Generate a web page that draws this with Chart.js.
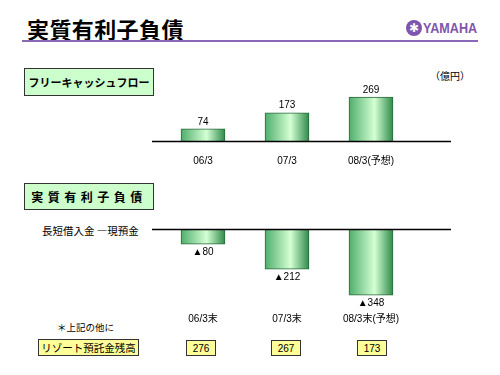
<!DOCTYPE html>
<html><head><meta charset="utf-8">
<script src="https://cdn.jsdelivr.net/npm/chart.js@4/dist/chart.umd.min.js"></script>
<style>
html,body{margin:0;padding:0;background:#fff;}
body{width:500px;height:375px;position:relative;overflow:hidden;font-family:"Liberation Sans","Noto Sans CJK JP",sans-serif;color:#000;}
.abs{position:absolute;white-space:nowrap;}
#title{left:27px;top:15px;font-family:"Noto Sans CJK JP",sans-serif;font-weight:bold;font-size:22px;line-height:26px;letter-spacing:0.4px;}
#rule{left:22px;top:40px;width:456px;height:2px;background:#8d67b8;}
#logoMark{left:406px;top:20px;width:16px;height:16px;border-radius:50%;background:#7e55ad;color:#fff;font-size:12px;line-height:16px;text-align:center;}
#logoText{left:423px;top:19px;font-family:"Liberation Sans",sans-serif;font-weight:bold;font-size:15px;line-height:17px;color:#7e55ad;transform:scaleX(0.84);transform-origin:left top;}
.gbox{background:#ccffcc;border:1.5px solid #333;box-sizing:border-box;font-family:"Noto Sans CJK JP",sans-serif;font-weight:bold;display:flex;align-items:center;justify-content:center;}
#box1{left:24px;top:68px;width:130px;height:28px;font-size:11px;}
#box2{left:24px;top:183px;width:130px;height:27px;font-size:12px;letter-spacing:4.5px;}
#unit{left:430px;top:68px;font-family:"Noto Sans CJK JP",sans-serif;font-size:10px;}
#ylab{left:42px;top:223px;font-family:"Noto Sans CJK JP",sans-serif;font-size:10.5px;}
#note{left:57px;top:320px;font-family:"Noto Sans CJK JP",sans-serif;font-size:9.5px;}
.ybox{background:#ffff99;border:1.2px solid #333;box-sizing:border-box;display:flex;align-items:center;justify-content:center;}
#resLabel{left:38px;top:339px;width:101px;height:17px;font-family:"Noto Sans CJK JP",sans-serif;font-size:10.5px;}
canvas{position:absolute;}
#c1{left:140px;top:65px;}
#c2{left:140px;top:205px;}
</style></head>
<body>
<div id="title" class="abs">実質有利子負債</div>
<div id="rule" class="abs"></div>
<div id="logoMark" class="abs">✱</div>
<div id="logoText" class="abs">YAMAHA</div>
<div id="box1" class="abs gbox">フリーキャッシュフロー</div>
<div id="unit" class="abs">（億円）</div>
<div id="box2" class="abs gbox">実質有利子負債</div>
<div id="ylab" class="abs">長短借入金 ―現預金</div>
<div id="note" class="abs">＊上記の他に</div>
<div id="resLabel" class="abs ybox">リゾート預託金残高</div>
<div id="c1wrap"><canvas id="c1" width="340" height="106"></canvas></div>
<div id="c2wrap"><canvas id="c2" width="340" height="130"></canvas></div>
<script>
const fcfCategories = ["06/3", "07/3", "08/3(予想)"];
const fcfValues = [74, 173, 269];
const debtCategories = ["06/3末", "07/3末", "08/3末(予想)"];
const debtValues = [-80, -212, -348];
const resortDeposits = [276, 267, 173];

const FONT = '"Liberation Sans","Noto Sans CJK JP",sans-serif';

function barGradient(ctx) {
  const chart = ctx.chart;
  const xs = chart.scales && chart.scales.x;
  if (!chart.chartArea || !xs || ctx.dataIndex === undefined) return '#9fdcaa';
  const cx = xs.getPixelForValue(ctx.dataIndex);
  const w = 44;
  const g = chart.ctx.createLinearGradient(cx - w / 2, 0, cx + w / 2, 0);
  g.addColorStop(0, '#4fae6c');
  g.addColorStop(0.58, '#d4ffd4');
  g.addColorStop(1, '#2f8a4a');
  return g;
}

const baselinePlugin = {
  id: 'baseline',
  afterDatasetsDraw(chart) {
    const c = chart.ctx, y = Math.round(chart.scales.y.getPixelForValue(0)) + 0.5;
    c.save();
    c.strokeStyle = '#000';
    c.lineWidth = 1.5;
    c.beginPath();
    c.moveTo(chart.chartArea.left - 9, y);
    c.lineTo(chart.chartArea.right + 38, y);
    c.stroke();
    c.restore();
  }
};

const valueLabelPlugin = {
  id: 'valueLabels',
  afterDatasetsDraw(chart) {
    const c = chart.ctx;
    const meta = chart.getDatasetMeta(0);
    const data = chart.data.datasets[0].data;
    c.save();
    c.font = '10px ' + FONT;
    c.fillStyle = '#000';
    c.textAlign = 'center';
    meta.data.forEach((bar, i) => {
      const v = data[i];
      if (v >= 0) {
        c.textBaseline = 'bottom';
        c.fillText(String(v), bar.x, bar.y - 2);
      } else {
        c.textBaseline = 'top';
        c.fillText('▲' + Math.abs(v), bar.x, bar.y + 3);
      }
    });
    c.restore();
  }
};

function makeChart(id, labels, values, yMin, yMax, padTop, tickPad) {
  return new Chart(document.getElementById(id), {
    type: 'bar',
    data: {
      labels: labels,
      datasets: [{
        data: values,
        backgroundColor: barGradient,
        borderColor: '#2a6a3a',
        borderWidth: 1,
        barThickness: 44
      }]
    },
    options: {
      responsive: false,
      animation: false,
      events: [],
      layout: { padding: { left: 21, right: 67, top: padTop, bottom: 0 } },
      plugins: { legend: { display: false }, tooltip: { enabled: false } },
      scales: {
        x: {
          grid: { display: false, drawTicks: false },
          border: { display: false },
          ticks: { color: '#000', font: { size: 10, family: FONT }, padding: tickPad, maxRotation: 0, autoSkip: false },
          afterFit: (s) => { s.height = 30; }
        },
        y: { display: false, min: yMin, max: yMax }
      }
    },
    plugins: [baselinePlugin, valueLabelPlugin]
  });
}

makeChart('c1', fcfCategories, fcfValues, 0, 300, 27, 14);
makeChart('c2', debtCategories, debtValues, -400, 0, 24, 8);

// resort deposit boxes aligned with the bottom chart's category positions
const centers = [201, 286, 372];
resortDeposits.forEach((v, i) => {
  const d = document.createElement('div');
  d.className = 'abs ybox';
  d.style.left = (centers[i] - 15) + 'px';
  d.style.top = '340px';
  d.style.width = '30px';
  d.style.height = '16px';
  d.style.fontSize = '10px';
  d.textContent = String(v);
  document.body.appendChild(d);
});
</script>
</body></html>
